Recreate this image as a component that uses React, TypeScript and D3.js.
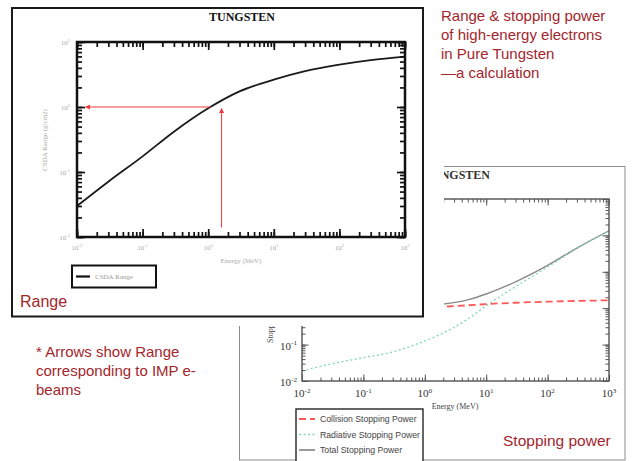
import React, { useEffect, useRef } from 'react';
import * as d3 from 'd3';

// range curve (left picture)
const rangeEnergy = [0.01, 0.03, 0.1, 0.3, 1, 3, 10, 30, 100, 300, 1000];
const rangeValues = [0.03, 0.071, 0.174, 0.417, 0.955, 1.74, 2.63, 3.55, 4.47, 5.25, 5.96];
const rangeTicksX = ['-2', '-1', '0', '1', '2', '3'];
const rangeTicksY = ['-2', '-1', '0', '1'];
// arrow for the IMP beam energy
const arrowEnergy = 1.6;
const arrowRange = 1.0;
const arrowFoot = 0.014;
const arrowTipE = 0.0135;
const arrowStartE = 1.1;

// stopping power curves (right picture)
const radEnergy = [0.01, 0.03, 0.1, 0.3, 1, 2, 5, 10, 30, 100, 300, 1000];
const radValues = [0.019, 0.0295, 0.0437, 0.063, 0.126, 0.209, 0.5, 1.17, 3.9, 13.5, 43.6, 132];
const colEnergy = [1, 2, 5, 10, 30, 100, 300, 1000];
const colValues = [1.05, 1.1, 1.2, 1.3, 1.41, 1.51, 1.58, 1.65];
const totEnergy = [1, 2, 5, 10, 30, 100, 300, 1000];
const totValues = [1.18, 1.3, 1.7, 2.45, 5.3, 15, 45, 134];
const spTicks = ['-2', '-1', '0', '1', '2', '3'];
const legendNames = ['Collision Stopping Power', 'Radiative Stopping Power', 'Total Stopping Power'];

const red = '#a3262c';
const sans = 'Liberation Sans, Arial, sans-serif';
const serif = 'Liberation Serif, Times New Roman, serif';

// left chart scales
const rx = d3.scaleLog().domain([0.01, 1000]).range([77, 405]);
const ry = d3.scaleLog().domain([0.01, 10]).range([237, 42]);
// right chart scales
const sx = d3.scaleLog().domain([0.01, 1000]).range([302, 609]);
const sy = d3.scaleLog().domain([0.01, 1000]).range([381, 199]);

const isMajor = v => Math.abs(Math.log10(v) - Math.round(Math.log10(v))) < 1e-6;

// inward ticks on all four sides drawn with d3 axes
function drawTicks(g, x, y, major, minor, color, width) {
  const [xa, xb] = x.range();
  const [ya, yb] = y.range();
  const sets = [
    [x.ticks(), minor],
    [x.ticks().filter(isMajor), major],
  ];
  sets.forEach(([vals, len]) => {
    g.append('g').attr('transform', `translate(0,${ya})`)
      .call(d3.axisBottom(x).tickValues(vals).tickSize(-len).tickFormat(() => ''));
    g.append('g').attr('transform', `translate(0,${yb})`)
      .call(d3.axisTop(x).tickValues(vals).tickSize(-len).tickFormat(() => ''));
  });
  const ysets = [
    [y.ticks(), minor],
    [y.ticks().filter(isMajor), major],
  ];
  ysets.forEach(([vals, len]) => {
    g.append('g').attr('transform', `translate(${xa},0)`)
      .call(d3.axisLeft(y).tickValues(vals).tickSize(-len).tickFormat(() => ''));
    g.append('g').attr('transform', `translate(${xb},0)`)
      .call(d3.axisRight(y).tickValues(vals).tickSize(-len).tickFormat(() => ''));
  });
  g.selectAll('.domain').remove();
  g.selectAll('line').attr('stroke', color).attr('stroke-width', width);
}

function Pow({ x, y, exp, size, anchor, fill, family }) {
  return (
    <text x={x} y={y} fontSize={size} textAnchor={anchor} fill={fill} fontFamily={family}>
      10<tspan dy={-size * 0.4} fontSize={size * 0.65}>{exp}</tspan>
    </text>
  );
}

function StoppingChart() {
  const tickRef = useRef(null);
  useEffect(() => {
    const g = d3.select(tickRef.current);
    g.selectAll('*').remove();
    drawTicks(g, sx, sy, 6.5, 3.5, '#555', 1);
  }, []);
  const curve = d3.line().x(d => sx(d[0])).y(d => sy(d[1])).curve(d3.curveMonotoneX);
  const rad = radEnergy.map((e, i) => [e, radValues[i]]);
  const col = colEnergy.map((e, i) => [e, colValues[i]]);
  const tot = totEnergy.map((e, i) => [e, totValues[i]]);
  const styles = [
    { stroke: '#ff5a5a', dash: '7,4', w: 1.8 },
    { stroke: '#7fd6b4', dash: '2,2.5', w: 1.3 },
    { stroke: '#8a8a8a', dash: null, w: 1.4 },
  ];
  return (
    <g>
      <rect x={239.5} y={166.5} width={385.5} height={293.5} fill="white" stroke="#8c8c8c" strokeWidth={1} />
      <text x={490} y={179} textAnchor="end" fontSize={12} fontWeight="bold" fontFamily={serif} fill="#333">
        TUNGSTEN
      </text>
      <clipPath id="spclip">
        <rect x={302} y={199} width={307} height={182} />
      </clipPath>
      <g clipPath="url(#spclip)" fill="none">
        <path d={curve(tot)} stroke={styles[2].stroke} strokeWidth={styles[2].w} />
        <path d={curve(rad)} stroke={styles[1].stroke} strokeWidth={styles[1].w} strokeDasharray={styles[1].dash} />
        <path d={curve(col)} stroke={styles[0].stroke} strokeWidth={styles[0].w} strokeDasharray={styles[0].dash} />
      </g>
      <rect x={302} y={199} width={307} height={182} fill="none" stroke="#444" strokeWidth={1.3} />
      <g ref={tickRef} />
      {spTicks.map(t => (
        <Pow key={'x' + t} x={sx(Math.pow(10, +t))} y={397} exp={t} size={11} anchor="middle" fill="#333" family={serif} />
      ))}
      {spTicks.map(t => (
        <Pow key={'y' + t} x={297} y={sy(Math.pow(10, +t)) + 5} exp={t} size={11} anchor="end" fill="#333" family={serif} />
      ))}
      <text x={455} y={409} textAnchor="middle" fontSize={8} fontFamily={serif} fill="#444">Energy (MeV)</text>
      <text transform="translate(273,343) rotate(-90)" fontSize={8} fontFamily={serif} fill="#444">
        Stopping Power (MeV cm2/g)
      </text>
      <rect x={296} y={409} width={127} height={60} fill="white" stroke="#333" strokeWidth={1.5} />
      {legendNames.map((n, i) => (
        <g key={n}>
          <line x1={299} x2={315} y1={419 + i * 15.5} y2={419 + i * 15.5}
            stroke={styles[i].stroke} strokeWidth={styles[i].w + 0.3} strokeDasharray={styles[i].dash} />
          <text x={320} y={422 + i * 15.5} fontSize={8.7} fontFamily={sans} fill="#444">{n}</text>
        </g>
      ))}
      <text x={503} y={446} fontSize={15.5} fontFamily={sans} fill={red}>Stopping power</text>
    </g>
  );
}

function RangeChart() {
  const tickRef = useRef(null);
  useEffect(() => {
    const g = d3.select(tickRef.current);
    g.selectAll('*').remove();
    drawTicks(g, rx, ry, 8, 5, '#111', 1.7);
  }, []);
  const curve = d3.line().x(d => rx(d[0])).y(d => ry(d[1])).curve(d3.curveMonotoneX);
  const pts = rangeEnergy.map((e, i) => [e, rangeValues[i]]);
  return (
    <g>
      <rect x={0} y={0} width={444} height={326} fill="white" />
      <rect x={12} y={8} width={411} height={308.5} fill="white" stroke="#1a1a1a" strokeWidth={2} />
      <text x={242} y={21} textAnchor="middle" fontSize={12} fontWeight="bold" fontFamily={serif} fill="#111">
        TUNGSTEN
      </text>
      <path d={curve(pts)} fill="none" stroke="#1a1a1a" strokeWidth={1.8} />
      <rect x={77} y={42} width={328} height={195} fill="none" stroke="#111" strokeWidth={2.5} />
      <g ref={tickRef} />
      {rangeTicksX.map(t => (
        <Pow key={'x' + t} x={rx(Math.pow(10, +t))} y={250} exp={t} size={7} anchor="middle" fill="#aaa" family={serif} />
      ))}
      {rangeTicksY.map(t => (
        <Pow key={'y' + t} x={70} y={ry(Math.pow(10, +t)) + 3} exp={t} size={7} anchor="end" fill="#aaa" family={serif} />
      ))}
      <text x={241} y={263} textAnchor="middle" fontSize={7} fontFamily={serif} fill="#aaa">Energy (MeV)</text>
      <text transform="translate(47,140) rotate(-90)" textAnchor="middle" fontSize={7} fontFamily={serif} fill="#aaa">
        CSDA Range (g/cm2)
      </text>
      <defs>
        <marker id="arr" viewBox="0 0 10 10" refX={9} refY={5} markerWidth={5} markerHeight={5} orient="auto">
          <path d="M0,0L10,5L0,10z" fill="#f03a3a" />
        </marker>
      </defs>
      <g stroke="#f03a3a" strokeWidth={1}>
        <line x1={rx(arrowStartE)} x2={rx(arrowTipE)} y1={ry(arrowRange)} y2={ry(arrowRange)} markerEnd="url(#arr)" />
        <line x1={rx(arrowEnergy)} x2={rx(arrowEnergy)} y1={ry(arrowFoot)} y2={ry(arrowRange) + 1.5} markerEnd="url(#arr)" />
      </g>
      <rect x={72} y={265.5} width={84} height={22} fill="white" stroke="#111" strokeWidth={2} />
      <line x1={76} x2={90} y1={276.5} y2={276.5} stroke="#111" strokeWidth={2.2} />
      <text x={95} y={279} fontSize={7} fontFamily={serif} fill="#999">CSDA Range</text>
      <text x={20} y={306.5} fontSize={16} fontFamily={sans} fill={red}>Range</text>
    </g>
  );
}

export default function App() {
  return (
    <svg width={635} height={461} style={{ position: 'absolute', left: 0, top: 0 }}>
      <rect width={635} height={461} fill="white" />
      <StoppingChart />
      <RangeChart />
      <g fontFamily={sans} fontSize={15} fill={red}>
        <text x={441} y={21}>Range &amp; stopping power</text>
        <text x={441} y={40}>of high-energy electrons</text>
        <text x={441} y={59}>in Pure Tungsten</text>
        <text x={441} y={77.5}>—a calculation</text>
        <text x={36} y={357}>* Arrows show Range</text>
        <text x={36} y={376}>corresponding to IMP e-</text>
        <text x={36} y={395}>beams</text>
      </g>
    </svg>
  );
}
